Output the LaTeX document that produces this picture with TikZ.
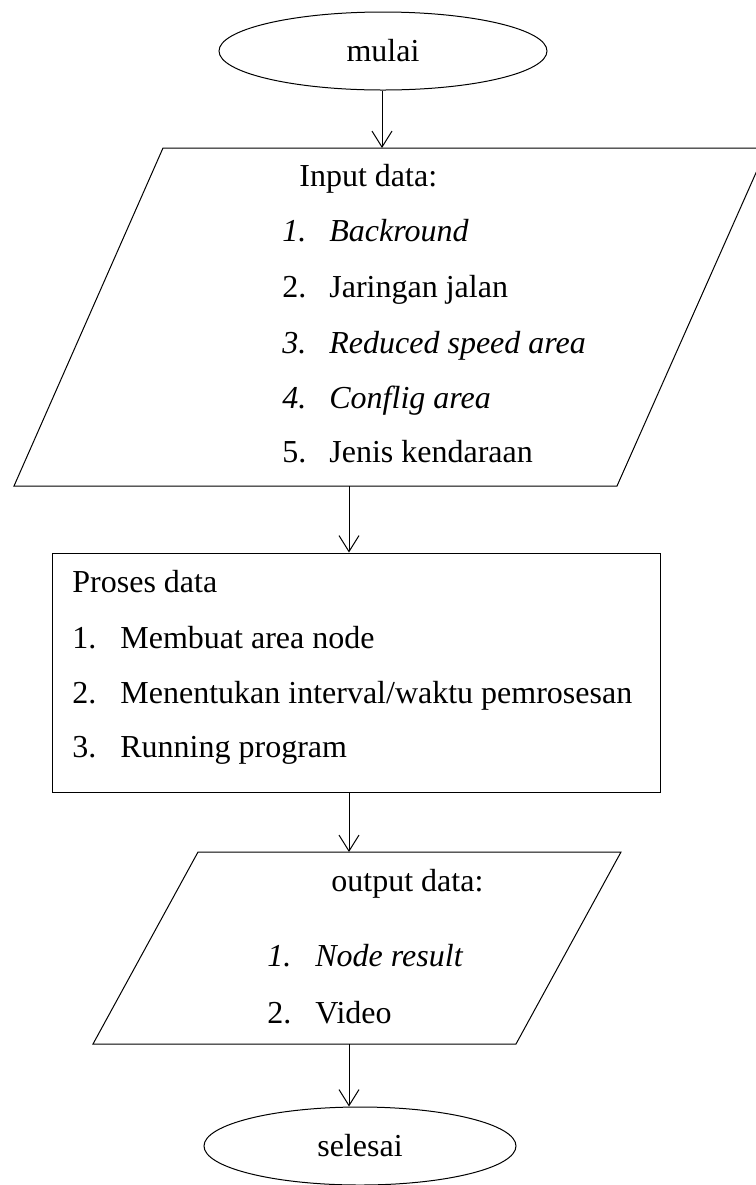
\documentclass[tikz,border=0pt]{standalone}
\usepackage{fontspec}
\setmainfont{Liberation Serif}
\usetikzlibrary{arrows.meta,shapes.geometric}
\tikzset{
  arr/.style={-{Straight Barb[length=8pt,width=10pt]}, line width=0.5pt},
  term/.style={draw, ellipse, line width=0.5pt, minimum width=164pt, minimum height=39pt, inner sep=0pt, font=\fontsize{16}{19}\selectfont},
  box/.style={draw, line width=0.5pt, inner sep=0pt},
  txt/.style={anchor=base west, inner sep=0pt, font=\fontsize{16}{19}\selectfont},
}
\begin{document}
\begin{tikzpicture}[x=0.5pt, y=-0.5pt]
\useasboundingbox (0,0) rectangle (756,1185);
\node[term] (mulai) at (383,51) {mulai};
\draw[line width=0.5pt] (163,148) -- (767,148) -- (617,486) -- (14,486) -- cycle;
\coordinate (inTop) at (382,148);
\coordinate (inBot) at (349,486);
\draw[arr] (mulai.south -| inTop) -- (inTop);
\node[txt] (inHead) at (299,186) {Input data:};
\node[txt] (in1n) at (282,241) {\textit{1.}};
\node[txt] (in1) at (329,241) {\textit{Backround}};
\node[txt] (in2n) at (282,297) {2.};
\node[txt] (in2) at (329,297) {Jaringan jalan};
\node[txt] (in3n) at (282,353) {\textit{3.}};
\node[txt] (in3) at (329,353) {\textit{Reduced speed area}};
\node[txt] (in4n) at (282,408) {\textit{4.}};
\node[txt] (in4) at (329,408) {\textit{Conflig area}};
\node[txt] (in5n) at (282,462) {5.};
\node[txt] (in5) at (329,462) {Jenis kendaraan};
\node[box, minimum width=304pt, minimum height=119.5pt] (proses) at (356,672.5) {};
\draw[arr] (inBot) -- (inBot |- proses.north);
\node[txt] (prHead) at (72,592) {Proses data};
\node[txt] (pr1n) at (72,648) {1.};
\node[txt] (pr1) at (120,648) {Membuat area node};
\node[txt] (pr2n) at (72,703) {2.};
\node[txt] (pr2) at (120,703) {Menentukan interval/waktu pemrosesan};
\node[txt] (pr3n) at (72,757) {3.};
\node[txt] (pr3) at (120,757) {Running program};
\draw[line width=0.5pt] (198,852) -- (621,852) -- (516,1044) -- (93,1044) -- cycle;
\coordinate (outTop) at (349,852);
\coordinate (outBot) at (349,1044);
\draw[arr] (outTop |- proses.south) -- (outTop);
\node[txt] (outHead) at (331,891) {output data:};
\node[txt] (out1n) at (267,966) {\textit{1.}};
\node[txt] (out1) at (315,966) {\textit{Node result}};
\node[txt] (out2n) at (267,1023) {2.};
\node[txt] (out2) at (315,1023) {Video};
\node[term, minimum width=156pt] (selesai) at (360,1146) {selesai};
\draw[arr] (outBot) -- (outBot |- selesai.north);
\end{tikzpicture}
\end{document}
